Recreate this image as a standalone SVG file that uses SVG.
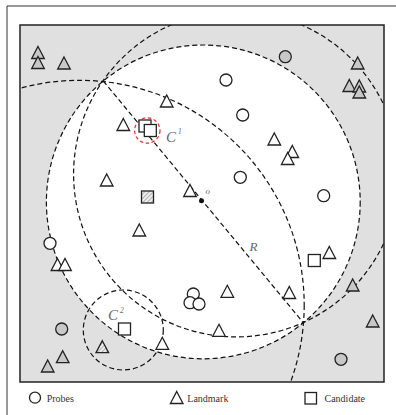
<svg xmlns="http://www.w3.org/2000/svg" xmlns:xlink="http://www.w3.org/1999/xlink" width="396" height="415" viewBox="0 0 396 415">
<style>
.w{fill:#fff;stroke:#222;stroke-width:1.3}
.g{fill:#c8c8c8;stroke:#222;stroke-width:1.3}
.h{fill:url(#hatch);stroke:#222;stroke-width:1.3}
.d{fill:none;stroke:#111;stroke-width:1.2;stroke-dasharray:5,3}
.lbl{font-family:"Liberation Serif","Times New Roman",serif;font-style:italic;fill:#666}
.leg{font-family:"Liberation Serif","Times New Roman",serif;font-size:10px;fill:#333}
</style>
<defs>
<path id="tri" d="M0,-6 L6.3,6 L-6.3,6 Z"/>
<rect id="sq" x="-6" y="-6" width="12" height="12"/>
<circle id="ci" r="6"/>
<pattern id="hatch" width="3" height="3" patternUnits="userSpaceOnUse" patternTransform="rotate(45)">
<rect width="3" height="3" fill="#eee"/>
<line x1="0" y1="0" x2="0" y2="3" stroke="#888" stroke-width="1.2"/>
</pattern>
<clipPath id="box"><rect x="20" y="25" width="364" height="357"/></clipPath>
</defs>
<rect width="396" height="415" fill="#fff"/>
<path d="M7,415 V6 H396" fill="none" stroke="#333" stroke-width="1"/>
<g id="region">
<rect x="20" y="25" width="364" height="357" fill="#e0e0e0"/>
<circle cx="203.3" cy="201.9" r="156.9" fill="#fff"/>
</g>
<g id="connectors">
<circle class="d" cx="203.3" cy="201.9" r="156.9"/>
<g clip-path="url(#box)">
<circle class="d" cx="236.4" cy="174.1" r="162.8"/>
<circle class="d" cx="79.5" cy="305" r="224.7"/>
</g>
<line class="d" x1="103.3" y1="81" x2="303.3" y2="322.7"/>
<circle class="d" cx="123.3" cy="330" r="40"/>
<circle cx="147.3" cy="130.5" r="12.7" fill="none" stroke="#e03030" stroke-width="1.2" stroke-dasharray="3.5,2.5"/>
</g>
<rect x="20" y="25" width="364" height="357" fill="none" stroke="#222" stroke-width="1.5"/>
<g id="landmarks">
<use href="#tri" x="38" y="52.5" class="g"/>
<use href="#tri" x="38" y="62.5" class="g"/>
<use href="#tri" x="64" y="63" class="g"/>
<use href="#tri" x="357.7" y="63" class="g"/>
<use href="#tri" x="349.3" y="85.5" class="g"/>
<use href="#tri" x="359.3" y="86" class="g"/>
<use href="#tri" x="359.3" y="92" class="g"/>
<use href="#tri" x="352.7" y="285" class="g"/>
<use href="#tri" x="372.7" y="321" class="g"/>
<use href="#tri" x="62.7" y="356.7" class="g"/>
<use href="#tri" x="47.7" y="366" class="g"/>
<use href="#tri" x="102.3" y="346.7" class="h"/>
<use href="#tri" x="166.7" y="101" class="w"/>
<use href="#tri" x="123.3" y="124.5" class="w"/>
<use href="#tri" x="274.3" y="139" class="w"/>
<use href="#tri" x="292.3" y="151.5" class="w"/>
<use href="#tri" x="287.7" y="158.5" class="w"/>
<use href="#tri" x="106.7" y="180" class="w"/>
<use href="#tri" x="190" y="190.5" class="w"/>
<use href="#tri" x="139.3" y="230" class="w"/>
<use href="#tri" x="57.5" y="264.5" class="w"/>
<use href="#tri" x="65" y="264.5" class="w"/>
<use href="#tri" x="329.3" y="252.5" class="w"/>
<use href="#tri" x="227.3" y="291.3" class="w"/>
<use href="#tri" x="289.3" y="292.5" class="w"/>
<use href="#tri" x="219" y="330.3" class="w"/>
<use href="#tri" x="162.3" y="343.3" class="w"/>
</g>
<g id="probes">
<use href="#ci" x="226" y="80" class="w"/>
<use href="#ci" x="242.7" y="115" class="w"/>
<use href="#ci" x="240.3" y="177.3" class="w"/>
<use href="#ci" x="323.7" y="195.7" class="w"/>
<use href="#ci" x="50" y="243.3" class="w"/>
<use href="#ci" x="193.3" y="294" class="w"/>
<use href="#ci" x="190" y="302.7" class="w"/>
<use href="#ci" x="199" y="304" class="w"/>
<use href="#ci" x="285.3" y="56.7" class="g"/>
<use href="#ci" x="61.7" y="329" class="g"/>
<use href="#ci" x="341" y="359.3" class="g"/>
</g>
<g id="candidates">
<use href="#sq" x="145" y="126" class="w"/>
<use href="#sq" x="150.3" y="130.5" class="w"/>
<use href="#sq" x="147.5" y="197" class="h"/>
<use href="#sq" x="314.3" y="260.5" class="w"/>
<use href="#sq" x="124.5" y="329" class="w"/>
</g>
<g id="center-o">
<circle cx="201.5" cy="200.8" r="2.5" fill="#111"/>
<text class="lbl" x="205.5" y="194" font-size="9">o</text>
</g>
<g id="labels">
<text class="lbl" x="166" y="141.7" font-size="15">C</text>
<text class="lbl" x="178" y="134" font-size="7.5" font-style="normal">1</text>
<text class="lbl" x="108" y="320" font-size="15">C</text>
<text class="lbl" x="120" y="313" font-size="7.5" font-style="normal">2</text>
<text class="lbl" x="249.5" y="250.7" font-size="13" fill="#444">R</text>
</g>
<g id="legend">
<circle cx="35" cy="397.7" r="5.5" fill="#fff" stroke="#222" stroke-width="1.3"/>
<text class="leg" x="46.7" y="401.5">Probes</text>
<path d="M176.7,391.5 L183,403.5 L170.4,403.5 Z" fill="#fff" stroke="#222" stroke-width="1.3"/>
<text class="leg" x="187.3" y="401.5" font-size="10.5">Landmark</text>
<rect x="305" y="392.5" width="11.5" height="11.5" fill="#fff" stroke="#222" stroke-width="1.3"/>
<text class="leg" x="324.5" y="401.5">Candidate</text>
</g>
</svg>
